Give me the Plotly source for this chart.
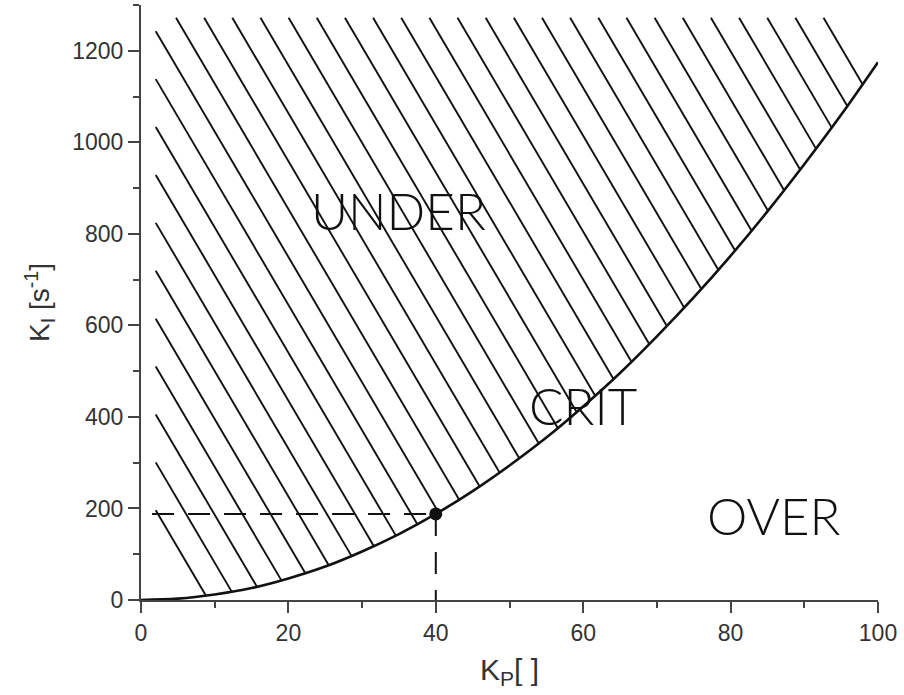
import numpy as np
import plotly.graph_objects as go

# Critical-damping boundary K_I vs K_P
kp = [0, 5, 10, 15, 20, 25, 30, 35, 40, 45, 50, 55, 60, 65, 70, 75, 80, 85, 90, 95, 100]
ki = [0, 3, 12, 26, 47, 73, 106, 144, 188, 238, 294, 355, 423, 496, 576, 661, 752, 849, 952, 1060, 1175]

# Marked operating point
point_kp = [40]
point_ki = [188]

# Region labels
labels = ["UNDER", "CRIT", "OVER"]
label_x = [34.9, 60.0, 85.9]
label_y = [852, 426, 184]

x_ticks = [0, 20, 40, 60, 80, 100]
y_ticks = [0, 200, 400, 600, 800, 1000, 1200]

# Hatch style (region above the curve)
hatch_top = 1272
hatch_left = 2.0
hatch_spacing = 3.82
hatch_slope = 27.4
hatch_first = 4.75

fig = go.Figure()

# hatch lines, clipped by the curve
xf = np.linspace(0, 100, 4001)
yf = np.interp(xf, kp, ki)
hx, hy = [], []
for k in range(-11, 24):
    xt = hatch_first + k * hatch_spacing
    if xt >= hatch_left:
        x0, y0 = xt, hatch_top
    else:
        x0 = hatch_left
        y0 = hatch_top - hatch_slope * (hatch_left - xt)
    if y0 < 150:
        continue
    diff = y0 - hatch_slope * (xf - x0) - yf
    mask = (xf >= x0) & (diff <= 0)
    if not mask.any():
        continue
    i = np.argmax(mask)
    x1 = xf[i]
    y1 = y0 - hatch_slope * (x1 - x0)
    hx += [x0, x1, None]
    hy += [y0, y1, None]

fig.add_trace(go.Scatter(x=hx, y=hy, mode="lines",
                         line=dict(color="#111111", width=1.9),
                         hoverinfo="skip", showlegend=False))

# dashed guide lines to the operating point
fig.add_trace(go.Scatter(x=[hatch_left - 0.5, point_kp[0]], y=[point_ki[0], point_ki[0]],
                         mode="lines", line=dict(color="#111111", width=2, dash="22px,14px"),
                         showlegend=False))
fig.add_trace(go.Scatter(x=[point_kp[0], point_kp[0]], y=[point_ki[0], 0],
                         mode="lines", line=dict(color="#111111", width=2, dash="22px,16px"),
                         showlegend=False))

# boundary curve
fig.add_trace(go.Scatter(x=kp, y=ki, mode="lines", line=dict(color="#111111", width=2.6, shape="spline"),
                         showlegend=False))

# operating point
fig.add_trace(go.Scatter(x=point_kp, y=point_ki, mode="markers",
                         marker=dict(color="#111111", size=13), showlegend=False))

for t, x, y in zip(labels, label_x, label_y):
    fig.add_annotation(x=x, y=y, text=t, showarrow=False,
                       font=dict(family="Lato, 'DejaVu Sans', sans-serif", size=51, color="#111111", weight=300))

axis_font = dict(family="Liberation Sans, Arial, sans-serif", size=23, color="#333333")
fig.update_xaxes(range=[0, 100], tickvals=x_ticks, ticks="outside", ticklen=11, tickwidth=2,
                 tickcolor="#444444", showline=True, linecolor="#444444", linewidth=2,
                 showgrid=False, zeroline=False, tickfont=axis_font, automargin=False,
                 minor=dict(dtick=10, ticks="outside", ticklen=6, tickwidth=2, tickcolor="#444444"),
                 title=dict(text="K<sub>P</sub>[ ]", font=dict(family="Liberation Sans, Arial, sans-serif",
                                                                size=30, color="#333333"), standoff=14))
fig.update_yaxes(range=[0, 1300], tickvals=y_ticks, ticks="outside", ticklen=11, tickwidth=2,
                 tickcolor="#444444", showline=True, linecolor="#444444", linewidth=2,
                 showgrid=False, zeroline=False, tickfont=axis_font, automargin=False,
                 minor=dict(dtick=100, ticks="outside", ticklen=6, tickwidth=2, tickcolor="#444444"),
                 title=dict(text="K<sub>I</sub> [s<sup>-1</sup>]", font=dict(family="Liberation Sans, Arial, sans-serif",
                                                                          size=28, color="#333333"), standoff=14))

fig.update_layout(width=904, height=695, margin=dict(l=141, r=26, t=5, b=95, autoexpand=False),
                  paper_bgcolor="white", plot_bgcolor="white", showlegend=False)

fig.write_html("out.html", config={"displayModeBar": False},
               post_script="document.body.style.margin='0';")
